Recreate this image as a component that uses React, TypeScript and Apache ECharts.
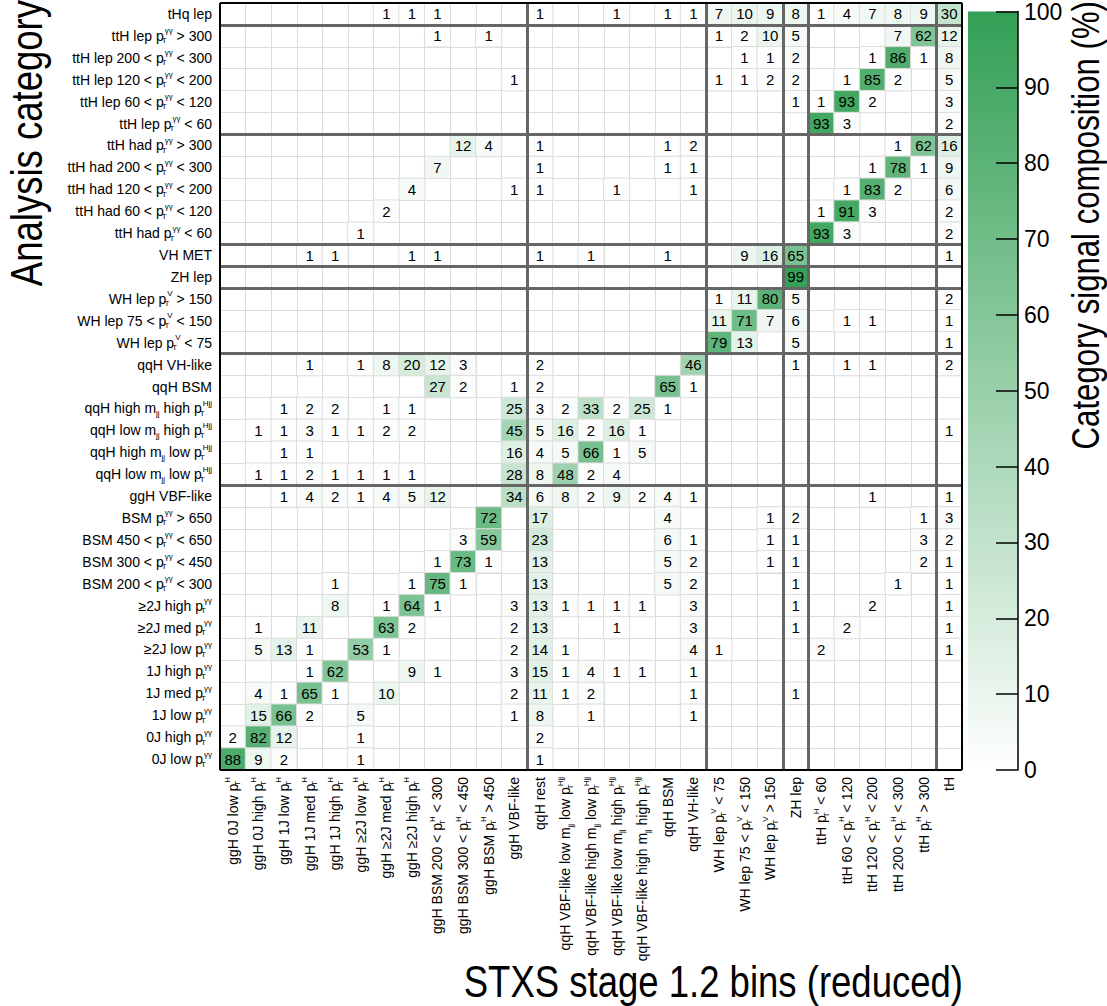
import React, { useEffect, useRef } from "react";
import * as echarts from "echarts";

const FONT = "'Liberation Sans', Arial, Helvetica, sans-serif";

// p_T with stacked sub/superscript (rich text markup)
const pT = (sup: string) => `p{t|T}{u|${sup}}`;
const mjj = "m{s|jj}";

// STXS stage 1.2 bins (x axis, left to right)
const xLabels: string[] = [
  `ggH 0J low ${pT("H")}`,
  `ggH 0J high ${pT("H")}`,
  `ggH 1J low ${pT("H")}`,
  `ggH 1J med ${pT("H")}`,
  `ggH 1J high ${pT("H")}`,
  `ggH ≥2J low ${pT("H")}`,
  `ggH ≥2J med ${pT("H")}`,
  `ggH ≥2J high ${pT("H")}`,
  `ggH BSM 200 < ${pT("H")} < 300`,
  `ggH BSM 300 < ${pT("H")} < 450`,
  `ggH BSM ${pT("H")} > 450`,
  "ggH VBF-like",
  "qqH rest",
  `qqH VBF-like low ${mjj} low ${pT("Hjj")}`,
  `qqH VBF-like high ${mjj} low ${pT("Hjj")}`,
  `qqH VBF-like low ${mjj} high ${pT("Hjj")}`,
  `qqH VBF-like high ${mjj} high ${pT("Hjj")}`,
  "qqH BSM",
  "qqH VH-like",
  `WH lep ${pT("V")} < 75`,
  `WH lep 75 < ${pT("V")} < 150`,
  `WH lep ${pT("V")} > 150`,
  "ZH lep",
  `ttH ${pT("H")} < 60`,
  `ttH 60 < ${pT("H")} < 120`,
  `ttH 120 < ${pT("H")} < 200`,
  `ttH 200 < ${pT("H")} < 300`,
  `ttH ${pT("H")} > 300`,
  "tH",
];

// Analysis categories (y axis, top to bottom)
const yLabels: string[] = [
  "tHq lep",
  `ttH lep ${pT("γγ")} > 300`,
  `ttH lep 200 < ${pT("γγ")} < 300`,
  `ttH lep 120 < ${pT("γγ")} < 200`,
  `ttH lep 60 < ${pT("γγ")} < 120`,
  `ttH lep ${pT("γγ")} < 60`,
  `ttH had ${pT("γγ")} > 300`,
  `ttH had 200 < ${pT("γγ")} < 300`,
  `ttH had 120 < ${pT("γγ")} < 200`,
  `ttH had 60 < ${pT("γγ")} < 120`,
  `ttH had ${pT("γγ")} < 60`,
  "VH MET",
  "ZH lep",
  `WH lep ${pT("V")} > 150`,
  `WH lep 75 < ${pT("V")} < 150`,
  `WH lep ${pT("V")} < 75`,
  "qqH VH-like",
  "qqH BSM",
  `qqH high ${mjj} high ${pT("Hjj")}`,
  `qqH low ${mjj} high ${pT("Hjj")}`,
  `qqH high ${mjj} low ${pT("Hjj")}`,
  `qqH low ${mjj} low ${pT("Hjj")}`,
  "ggH VBF-like",
  `BSM ${pT("γγ")} > 650`,
  `BSM 450 < ${pT("γγ")} < 650`,
  `BSM 300 < ${pT("γγ")} < 450`,
  `BSM 200 < ${pT("γγ")} < 300`,
  `≥2J high ${pT("γγ")}`,
  `≥2J med ${pT("γγ")}`,
  `≥2J low ${pT("γγ")}`,
  `1J high ${pT("γγ")}`,
  `1J med ${pT("γγ")}`,
  `1J low ${pT("γγ")}`,
  `0J high ${pT("γγ")}`,
  `0J low ${pT("γγ")}`,
];

// Composition (%) per analysis category (rows, top to bottom): {STXS bin index: value}
const composition: Record<number, number>[] = [
  { 6: 1, 7: 1, 8: 1, 12: 1, 15: 1, 17: 1, 18: 1, 19: 7, 20: 10, 21: 9, 22: 8, 23: 1, 24: 4, 25: 7, 26: 8, 27: 9, 28: 30 },
  { 8: 1, 10: 1, 19: 1, 20: 2, 21: 10, 22: 5, 26: 7, 27: 62, 28: 12 },
  { 20: 1, 21: 1, 22: 2, 25: 1, 26: 86, 27: 1, 28: 8 },
  { 11: 1, 19: 1, 20: 1, 21: 2, 22: 2, 24: 1, 25: 85, 26: 2, 28: 5 },
  { 22: 1, 23: 1, 24: 93, 25: 2, 28: 3 },
  { 23: 93, 24: 3, 28: 2 },
  { 9: 12, 10: 4, 12: 1, 17: 1, 18: 2, 26: 1, 27: 62, 28: 16 },
  { 8: 7, 12: 1, 17: 1, 18: 1, 25: 1, 26: 78, 27: 1, 28: 9 },
  { 7: 4, 11: 1, 12: 1, 15: 1, 18: 1, 24: 1, 25: 83, 26: 2, 28: 6 },
  { 6: 2, 23: 1, 24: 91, 25: 3, 28: 2 },
  { 5: 1, 23: 93, 24: 3, 28: 2 },
  { 3: 1, 4: 1, 7: 1, 8: 1, 12: 1, 14: 1, 17: 1, 20: 9, 21: 16, 22: 65, 28: 1 },
  { 22: 99 },
  { 19: 1, 20: 11, 21: 80, 22: 5, 28: 2 },
  { 19: 11, 20: 71, 21: 7, 22: 6, 24: 1, 25: 1, 28: 1 },
  { 19: 79, 20: 13, 22: 5, 28: 1 },
  { 3: 1, 5: 1, 6: 8, 7: 20, 8: 12, 9: 3, 12: 2, 18: 46, 22: 1, 24: 1, 25: 1, 28: 2 },
  { 8: 27, 9: 2, 11: 1, 12: 2, 17: 65, 18: 1 },
  { 2: 1, 3: 2, 4: 2, 6: 1, 7: 1, 11: 25, 12: 3, 13: 2, 14: 33, 15: 2, 16: 25, 17: 1 },
  { 1: 1, 2: 1, 3: 3, 4: 1, 5: 1, 6: 2, 7: 2, 11: 45, 12: 5, 13: 16, 14: 2, 15: 16, 16: 1, 28: 1 },
  { 2: 1, 3: 1, 11: 16, 12: 4, 13: 5, 14: 66, 15: 1, 16: 5 },
  { 1: 1, 2: 1, 3: 2, 4: 1, 5: 1, 6: 1, 7: 1, 11: 28, 12: 8, 13: 48, 14: 2, 15: 4 },
  { 2: 1, 3: 4, 4: 2, 5: 1, 6: 4, 7: 5, 8: 12, 11: 34, 12: 6, 13: 8, 14: 2, 15: 9, 16: 2, 17: 4, 18: 1, 25: 1, 28: 1 },
  { 10: 72, 12: 17, 17: 4, 21: 1, 22: 2, 27: 1, 28: 3 },
  { 9: 3, 10: 59, 12: 23, 17: 6, 18: 1, 21: 1, 22: 1, 27: 3, 28: 2 },
  { 8: 1, 9: 73, 10: 1, 12: 13, 17: 5, 18: 2, 21: 1, 22: 1, 27: 2, 28: 1 },
  { 4: 1, 7: 1, 8: 75, 9: 1, 12: 13, 17: 5, 18: 2, 22: 1, 26: 1, 28: 1 },
  { 4: 8, 6: 1, 7: 64, 8: 1, 11: 3, 12: 13, 13: 1, 14: 1, 15: 1, 16: 1, 18: 3, 22: 1, 25: 2, 28: 1 },
  { 1: 1, 3: 11, 6: 63, 7: 2, 11: 2, 12: 13, 15: 1, 18: 3, 22: 1, 24: 2, 28: 1 },
  { 1: 5, 2: 13, 3: 1, 5: 53, 6: 1, 11: 2, 12: 14, 13: 1, 18: 4, 19: 1, 23: 2, 28: 1 },
  { 3: 1, 4: 62, 7: 9, 8: 1, 11: 3, 12: 15, 13: 1, 14: 4, 15: 1, 16: 1, 18: 1 },
  { 1: 4, 2: 1, 3: 65, 4: 1, 6: 10, 11: 2, 12: 11, 13: 1, 14: 2, 18: 1, 22: 1 },
  { 1: 15, 2: 66, 3: 2, 5: 5, 11: 1, 12: 8, 14: 1, 18: 1 },
  { 0: 2, 1: 82, 2: 12, 5: 1, 12: 2 },
  { 0: 88, 1: 9, 2: 2, 5: 1, 12: 1 },
];

// group separators: column / row boundary indices
const xGroupBreaks = [12, 19, 22, 23, 28];
const yGroupBreaks = [1, 6, 11, 12, 13, 16, 22];

const colorbarTicks = { min: 0, max: 100, step: 10 };
const LOW_COLOR = "#ffffff";
const HIGH_COLOR = "#33a055";

const richStyles = {
  t: { fontSize: 8, width: 1, align: "left", verticalAlign: "bottom", lineHeight: 9, fontFamily: FONT, color: "#000" },
  u: { fontSize: 8, align: "left", verticalAlign: "top", lineHeight: 9, fontFamily: FONT, color: "#000" },
  s: { fontSize: 8, verticalAlign: "bottom", lineHeight: 9, fontFamily: FONT, color: "#000" },
};

export default function App() {
  const ref = useRef<HTMLDivElement>(null);
  useEffect(() => {
    if (!ref.current) return;
    const chart = echarts.init(ref.current, undefined, { renderer: "svg" });
    const nX = xLabels.length;
    const nY = yLabels.length;

    const cells: [number, number, number][] = [];
    composition.forEach((row, r) => {
      Object.keys(row).forEach((k) => {
        const c = Number(k);
        cells.push([c, r, row[c]]);
      });
    });

    const groupLines = [
      ...xGroupBreaks.map((b) => ({ coords: [[b, 0], [b, nY]] })),
      ...yGroupBreaks.map((b) => ({ coords: [[0, b], [nX, b]] })),
    ];
    const frame = [
      { coords: [[0, 0], [nX, 0]] },
      { coords: [[nX, 0], [nX, nY]] },
      { coords: [[nX, nY], [0, nY]] },
      { coords: [[0, nY], [0, 0]] },
    ];

    const option: any = {
      animation: false,
      textStyle: { fontFamily: FONT },
      grid: [
        { left: 220, top: 3, width: 742, height: 767 },
        {
          left: 968,
          top: 3,
          width: 50,
          height: 767,
          show: true,
          borderWidth: 0,
          backgroundColor: new echarts.graphic.LinearGradient(0, 0, 0, 1, [
            { offset: 0, color: HIGH_COLOR },
            { offset: 1, color: LOW_COLOR },
          ]),
        },
      ],
      xAxis: [
        {
          type: "category",
          gridIndex: 0,
          data: xLabels,
          axisLine: { show: false },
          axisTick: { show: false },
          axisLabel: {
            interval: 0,
            rotate: 90,
            margin: 7,
            fontSize: 14,
            lineHeight: 18,
            color: "#000",
            fontFamily: FONT,
            rich: richStyles,
          },
          splitLine: { show: true, interval: 0, lineStyle: { color: "#dcdcdc", width: 1 } },
        },
        { type: "value", gridIndex: 0, min: 0, max: nX, show: false },
        { type: "value", gridIndex: 1, min: 0, max: 1, show: false },
      ],
      yAxis: [
        {
          type: "category",
          gridIndex: 0,
          data: yLabels,
          inverse: true,
          axisLine: { show: false },
          axisTick: { show: false },
          axisLabel: {
            interval: 0,
            margin: 8,
            fontSize: 14,
            lineHeight: 18,
            color: "#000",
            fontFamily: FONT,
            rich: richStyles,
          },
          splitLine: { show: true, interval: 0, lineStyle: { color: "#dcdcdc", width: 1 } },
        },
        { type: "value", gridIndex: 0, min: 0, max: nY, inverse: true, show: false },
        {
          type: "value",
          gridIndex: 1,
          min: colorbarTicks.min,
          max: colorbarTicks.max,
          interval: colorbarTicks.step,
          position: "right",
          z: 5,
          axisLine: { show: true, onZero: false, lineStyle: { color: "#000", width: 1.5 } },
          axisTick: { show: true, inside: true, length: 22, lineStyle: { color: "#000", width: 1.5 } },
          axisLabel: { fontSize: 23, color: "#000", margin: 6, fontFamily: FONT },
          splitLine: { show: false },
        },
      ],
      visualMap: {
        type: "continuous",
        show: false,
        min: colorbarTicks.min,
        max: colorbarTicks.max,
        seriesIndex: 0,
        dimension: 2,
        inRange: { color: [LOW_COLOR, HIGH_COLOR] },
      },
      series: [
        {
          type: "heatmap",
          xAxisIndex: 0,
          yAxisIndex: 0,
          data: cells,
          itemStyle: { borderColor: "#dcdcdc", borderWidth: 1 },
          label: {
            show: true,
            formatter: (p: any) => String(p.value[2]),
            fontSize: 15,
            color: "#000",
            fontFamily: FONT,
          },
          emphasis: { disabled: true },
        },
        {
          type: "lines",
          coordinateSystem: "cartesian2d",
          xAxisIndex: 1,
          yAxisIndex: 1,
          silent: true,
          z: 5,
          lineStyle: { color: "#666666", width: 3, opacity: 1 },
          data: groupLines,
        },
        {
          type: "lines",
          coordinateSystem: "cartesian2d",
          xAxisIndex: 1,
          yAxisIndex: 1,
          silent: true,
          z: 6,
          lineStyle: { color: "#000000", width: 2, opacity: 1 },
          data: frame,
        },
      ],
      graphic: [
        {
          type: "text",
          x: 27,
          y: 0,
          rotation: Math.PI / 2,
          scaleX: 0.83,
          style: {
            text: "Analysis category",
            font: `44px ${FONT}`,
            align: "right",
            verticalAlign: "middle",
            fill: "#000",
          },
        },
        {
          type: "text",
          x: 963,
          y: 982,
          scaleX: 0.83,
          style: {
            text: "STXS stage 1.2 bins (reduced)",
            font: `44px ${FONT}`,
            align: "right",
            verticalAlign: "middle",
            fill: "#000",
          },
        },
        {
          type: "text",
          x: 1086,
          y: 1,
          rotation: Math.PI / 2,
          scaleX: 0.82,
          style: {
            text: "Category signal composition (%)",
            font: `38px ${FONT}`,
            align: "right",
            verticalAlign: "middle",
            fill: "#000",
          },
        },
      ],
    };
    chart.setOption(option);
    return () => chart.dispose();
  }, []);
  return (
    <div
      ref={ref}
      style={{ position: "absolute", left: 0, top: 0, width: 1107, height: 1006, background: "#fff" }}
    />
  );
}
